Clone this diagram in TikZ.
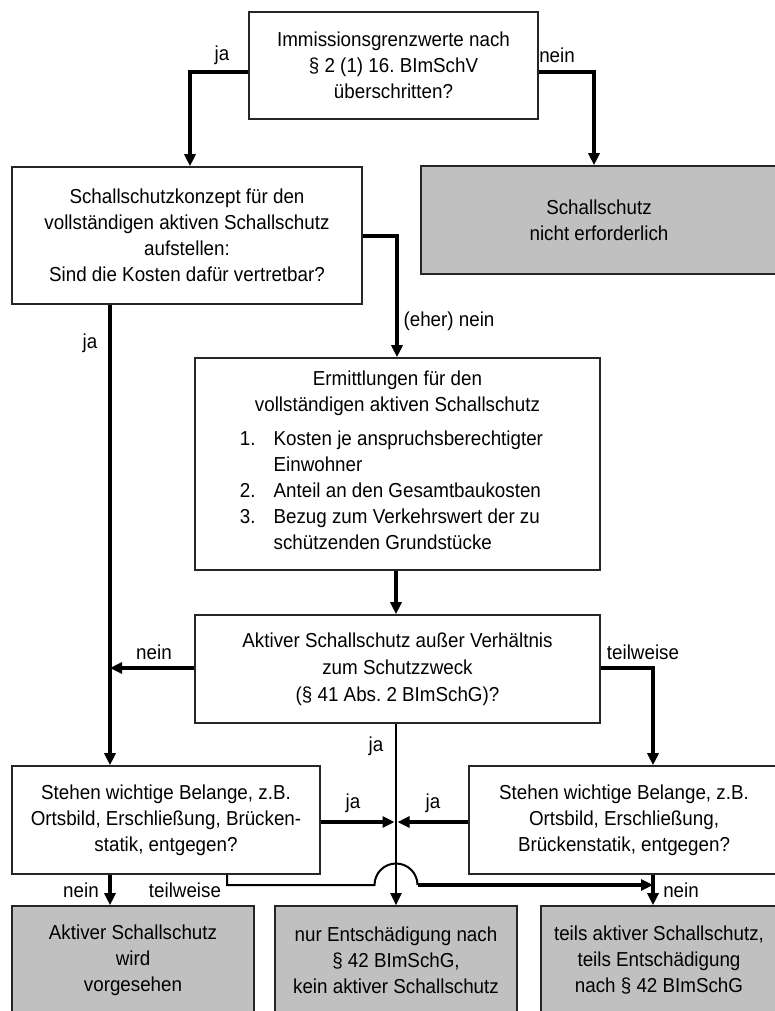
\documentclass[tikz,border=0pt]{standalone}
\usepackage{fontspec}
\setmainfont{Liberation Sans}[FakeStretch=0.93]
\usetikzlibrary{arrows.meta}
\definecolor{boxgray}{RGB}{192,192,192}
\newcommand\fsz{\fontsize{20.2}{26}\selectfont}
\frenchspacing
\begin{document}
\begin{tikzpicture}[x=1pt,y=-1pt,
  box/.style={draw=black!85, line width=1.6pt, fill=white, align=center, inner sep=0pt, font=\fsz},
  gbox/.style={box, fill=boxgray},
  lbl/.style={inner sep=0pt, font=\fsz},
  arr/.style={-{Triangle[length=12pt,width=11pt]}},
  thickconn/.style={line width=3.6pt, line join=miter},
  thinconn/.style={line width=2pt, line join=miter},
]
\useasboundingbox (0,0) rectangle (774,1011);

% boxes
\node[box, minimum width=289pt, minimum height=107pt] (q1) at (393.5,65.5)
  {Immissionsgrenzwerte nach\\§ 2 (1) 16. BImSchV\\überschritten?};
\node[box, minimum width=350pt, minimum height=137pt] (q2) at (187,235.5)
  {Schallschutzkonzept für den\\vollständigen aktiven Schallschutz\\aufstellen:\\Sind die Kosten dafür vertretbar?};
\node[gbox, minimum width=356pt, minimum height=108pt] (g1) at (599,220)
  {Schallschutz\\nicht erforderlich};
\node[box, minimum width=405pt, minimum height=212pt] (q3) at (397.5,464)
  {Ermittlungen für den\\vollständigen aktiven Schallschutz\\[10pt]
   \hspace*{-12pt}\begin{tabular}{@{}l@{\hspace{18pt}}l@{}}
   1.&Kosten je anspruchsberechtigter\\
     &Einwohner\\
   2.&Anteil an den Gesamtbaukosten\\
   3.&Bezug zum Verkehrswert der zu\\
     &schützenden Grundstücke
   \end{tabular}};
\node[box, minimum width=405pt, minimum height=108pt] (q4) at (397.5,669)
  {Aktiver Schallschutz außer Verhältnis\\[1pt]zum Schutzzweck\\[1pt](§ 41 Abs. 2 BImSchG)?};
\node[box, minimum width=308pt, minimum height=108pt] (q5) at (166,820)
  {Stehen wichtige Belange, z.B.\\Ortsbild, Erschließung, Brücken-\\statik, entgegen?};
\node[box, minimum width=310pt, minimum height=108pt] (q6) at (624,820)
  {Stehen wichtige Belange, z.B.\\Ortsbild, Erschließung,\\Brückenstatik, entgegen?};
\node[gbox, minimum width=242pt, minimum height=108pt] (r1) at (133,960)
  {Aktiver Schallschutz\\wird\\vorgesehen};
\node[gbox, minimum width=242pt, minimum height=108pt] (r2) at (396,960)
  {nur Entschädigung nach\\§ 42 BImSchG,\\kein aktiver Schallschutz};
\node[gbox, minimum width=236pt, minimum height=108pt] (r3) at (659,960)
  {teils aktiver Schallschutz,\\teils Entschädigung\\nach § 42 BImSchG};

% helper coordinates
\coordinate (c1) at (190,72);
\coordinate (c2) at (594,72);
\coordinate (c3) at (397,236);
\coordinate (c4) at (110,0);
\coordinate (c5) at (396,0);
\coordinate (c6) at (110,668);
\coordinate (c7) at (653,668);
\coordinate (c8l) at (394.5,822);
\coordinate (c8r) at (397.5,822);
\coordinate (c9) at (227,885);
\coordinate (a1) at (374.5,885);
\coordinate (a2) at (417.5,885);

% connectors
\draw[thickconn,arr] (q1.west |- c1) -| (q2.north -| c1);
\draw[thickconn,arr] (q1.east |- c2) -| (g1.north -| c2);
\draw[thickconn,arr] (q2.east |- c3) -| (q3.north -| c3);
\draw[thickconn,arr] (q2.south -| c4) -- (q5.north -| c4);
\draw[thickconn,arr] (q3.south -| c5) -- (q4.north -| c5);
\draw[thickconn,arr] (q4.west |- c6) -- (c6);
\draw[thickconn,arr] (q4.east |- c7) -| (q6.north -| c7);
\draw[thinconn,arr] (q4.south -| c5) -- (r2.north -| c5);
\draw[thickconn,arr] (q5.east |- c8l) -- (c8l);
\draw[thickconn,arr] (q6.west |- c8r) -- (c8r);
\draw[thinconn] (q5.south -| c9) |- (a1) arc[start angle=180,end angle=0,radius=21.5pt];
\draw[thickconn,arr] (a2) -- (c7 |- a2);
\draw[thickconn,arr] (q5.south -| c4) -- (r1.north -| c4);
\draw[thickconn,arr] (q6.south -| c7) -- (r3.north -| c7);

% labels
\node[lbl] (l1) at (222,55) {ja};
\node[lbl] (l2) at (557,55) {nein};
\node[lbl] (l3) at (449,321) {(eher) nein};
\node[lbl] (l4) at (90,343) {ja};
\node[lbl] (l5) at (154,652) {nein};
\node[lbl] (l6) at (643,652) {teilweise};
\node[lbl] (l7) at (376,746) {ja};
\node[lbl] (l8) at (353,803) {ja};
\node[lbl] (l9) at (433,803) {ja};
\node[lbl] (l10) at (81,890) {nein};
\node[lbl] (l11) at (185,890) {teilweise};
\node[lbl] (l12) at (681,890) {nein};
\end{tikzpicture}
\end{document}
